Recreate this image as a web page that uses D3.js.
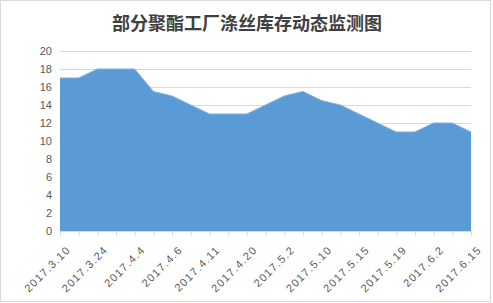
<!DOCTYPE html>
<html>
<head>
<meta charset="utf-8">
<script src="https://cdn.jsdelivr.net/npm/d3@7"></script>
<style>
	body { margin: 0; background: #fff; }
	svg { display: block; }
	.tick text { font-family: 'Liberation Sans', 'DejaVu Sans', sans-serif; font-size: 11px; fill: #595959; }
</style>
</head>
<body>
<div id="chart"></div>
<script>
let width = 493
let height = 303

let title = '部分聚酯工厂涤丝库存动态监测图'

// 23 weekly observations; only every other one gets a label on the axis
let values = [17, 17, 18, 18, 18, 15.5, 15, 14, 13, 13, 13, 14, 15, 15.5, 14.5, 14, 13, 12, 11, 11, 12, 12, 11]
let dateLabels = ['2017.3.10', '2017.3.24', '2017.4.4', '2017.4.6', '2017.4.11', '2017.4.20',
	'2017.5.2', '2017.5.10', '2017.5.15', '2017.5.19', '2017.6.2', '2017.6.15']
let yTicks = [0, 2, 4, 6, 8, 10, 12, 14, 16, 18, 20]

let margins = {
	'top': 51,
	'right': 22,
	'bottom': 72,
	'left': 60,
}

let innerW = width - margins.left - margins.right
let innerH = height - margins.top - margins.bottom

let xScale = d3.scaleLinear()
	.domain([0, values.length - 1])
	.range([0, innerW])

let yScale = d3.scaleLinear()
	.domain([0, 20])
	.range([innerH, 0])

let svg = d3.select('#chart').append('svg')
	.attr('width', width)
	.attr('height', height)

svg.append('rect')
	.attr('x', 0.5)
	.attr('y', 0.5)
	.attr('width', width - 3)
	.attr('height', height - 2)
	.attr('fill', '#fff')
	.attr('stroke', '#d9d9d9')

svg.append('text')
	.attr('x', 247)
	.attr('y', 30)
	.attr('text-anchor', 'middle')
	.attr('font-family', "'Noto Sans CJK SC', sans-serif")
	.attr('font-weight', 'bold')
	.attr('font-size', 18)
	.attr('fill', '#404040')
	.text(title)

let inner = svg.append('g')
	.attr('transform', 'translate(' + margins.left + ',' + margins.top + ')')

// gridlines + y labels
let yAxis = d3.axisLeft(yScale)
	.tickValues(yTicks)
	.tickSize(-innerW)
	.tickPadding(8)

let yG = inner.append('g').call(yAxis)
yG.select('.domain').remove()
yG.selectAll('.tick line').attr('stroke', '#d9d9d9')

let area = d3.area()
	.x((d, i) => xScale(i))
	.y0(yScale(0))
	.y1((d) => yScale(d))

inner.append('path')
	.datum(values)
	.attr('d', area)
	.attr('fill', '#5b9bd5')

inner.append('path')
	.datum(values)
	.attr('d', d3.line().x((d, i) => xScale(i)).y((d) => yScale(d)))
	.attr('fill', 'none')
	.attr('stroke', '#7fb0df')
	.attr('stroke-width', 1)

// category axis: a tick per observation, a label every second one
let xAxis = d3.axisBottom(xScale)
	.tickValues(d3.range(values.length))
	.tickSize(5)
	.tickFormat((i) => i % 2 === 0 ? dateLabels[i / 2] : '')

let xG = inner.append('g')
	.attr('transform', `translate(0,${innerH})`)
	.call(xAxis)

xG.select('.domain').attr('stroke', '#d9d9d9').attr('d', `M0,0.5H${innerW}`)
xG.selectAll('.tick line').attr('stroke', '#d9d9d9')
xG.selectAll('.tick text')
	.attr('text-anchor', 'end')
	.attr('letter-spacing', 1.2)
	.attr('dy', 0)
	.attr('transform', 'translate(5,14) rotate(-45)')
</script>
</body>
</html>
